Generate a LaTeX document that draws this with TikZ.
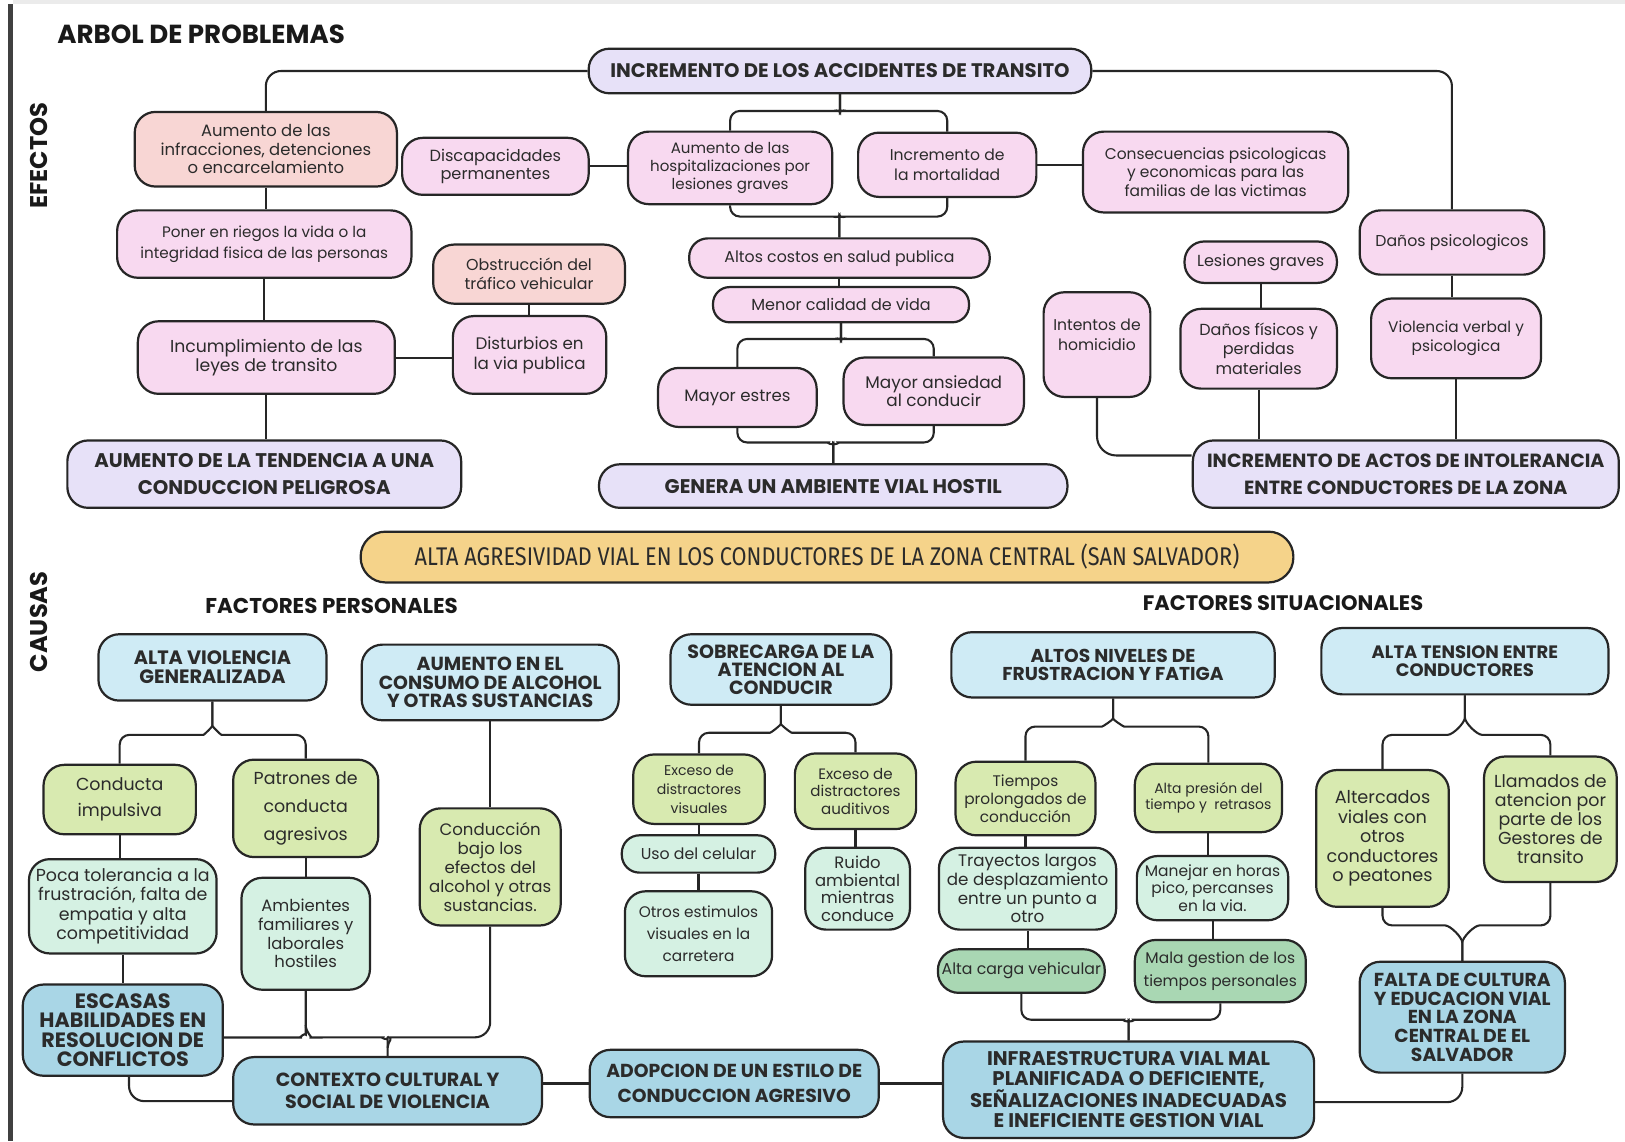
\documentclass[tikz,border=0pt]{standalone}
\usepackage{fontspec}
\setmainfont{Poppins}
\newfontfamily\bannerfont[FakeStretch=0.85]{Fira Sans}
\usetikzlibrary{calc,backgrounds}
\definecolor{lc}{HTML}{262626}
\definecolor{txt}{HTML}{2B2B2B}
\definecolor{lavC}{HTML}{E7E1F8}
\definecolor{pnkC}{HTML}{F8D9F0}
\definecolor{salC}{HTML}{F8D6D4}
\definecolor{banC}{HTML}{F5D38A}
\definecolor{lbC}{HTML}{CFEBF5}
\definecolor{dbC}{HTML}{A9D6E6}
\definecolor{ygC}{HTML}{D8EAB0}
\definecolor{mtC}{HTML}{D5F1E3}
\definecolor{dgC}{HTML}{A9D7B3}
\tikzset{
  bxs/.style={draw=lc, line width=1.6pt, rounded corners=15pt, inner sep=0pt, align=center, text=txt},
  rc/.style={rounded corners=#1*0.75pt},
  lav/.style={bxs, fill=lavC},
  pnk/.style={bxs, fill=pnkC},
  sal/.style={bxs, fill=salC},
  ban/.style={bxs, fill=banC},
  lb/.style={bxs, fill=lbC},
  db/.style={bxs, fill=dbC},
  yg/.style={bxs, fill=ygC},
  mt/.style={bxs, fill=mtC},
  dg/.style={bxs, fill=dgC},
  fs/.style 2 args={font=\fontsize{#1}{#2}\selectfont},
  fb/.style 2 args={font=\fontsize{#1}{#2}\selectfont\bfseries},
  conn/.style={draw=lc, line width=1.5pt, rounded corners=7pt},
  lbl/.style={text=black!90, inner sep=0pt}
}
% box from corners (x1,y1)-(x2,y2) in px units
\newcommand{\bx}[7]{\node[#6,minimum width={(#4-#2)*0.75pt},minimum height={(#5-#3)*0.75pt}] (#1) at ({(#2+#4)/2},{(#3+#5)/2}) {#7};}
% overbrace split: parent, child, stem, rx, ry, side (-1/1)
\newcommand{\obr}[6]{\draw[conn] (#1.south) -- ++(0,#3) to[out=-90,in={90+90*#6}] ++({#6*#4},#5) -| (#2.north);}
% underbrace join: child, parent, stem, rx, ry, side (-1/1)
\newcommand{\ubr}[6]{\draw[conn] (#1.south) |- ($(#2.north)+({#6*#4},{-(#3+#5)})$) to[out={90+90*#6},in=90] ($(#2.north)+(0,{-#3})$) -- (#2.north);}
\begin{document}
\begin{tikzpicture}[x=0.75pt,y=-0.75pt]
\useasboundingbox (0,0) rectangle (1568,1101);
% ---------------- labels
\node[lbl,fb={18.9}{20},anchor=west] (title) at (55,33) {ARBOL DE PROBLEMAS};
\node[lbl,fb={17.5}{20},rotate=90] (efectos) at (38,150) {EFECTOS};
\node[lbl,fb={17.5}{20},rotate=90] (causas) at (38,600) {CAUSAS};
\node[lbl,fb={15.5}{17}] (fper) at (320,585) {FACTORES PERSONALES};
\node[lbl,fb={15.2}{17}] (fsit) at (1238,582) {FACTORES SITUACIONALES};
% ---------------- effects
\bx{incAcc}{568}{47}{1053}{90}{lav,rc=20,fb={14.2}{15}}{INCREMENTO DE LOS ACCIDENTES DE TRANSITO}
\bx{aumInf}{130}{108}{383}{180}{sal,fs={11.9}{13.5}}{Aumento de las\\infracciones, detenciones\\o encarcelamiento}
\bx{disc}{388}{133}{568}{188}{pnk,fs={11.7}{13.5}}{Discapacidades\\permanentes}
\bx{hosp}{606}{127}{803}{197}{pnk,fs={10.9}{12.8}}{Aumento de las\\hospitalizaciones por\\lesiones graves}
\bx{mort}{828}{128}{1000}{190}{pnk,fs={11.3}{14}}{Incremento de\\la mortalidad}
\bx{cons}{1045}{127}{1301}{205}{pnk,fs={11.2}{13.5}}{Consecuencias psicologicas\\y economicas para las\\familias de las victimas}
\bx{poner}{113}{203}{397}{268}{pnk,fs={11}{15}}{Poner en riegos la vida o la\\integridad fisica de las personas}
\bx{obst}{418}{236}{603}{293}{sal,fs={11.5}{13.5}}{Obstrucción del\\tráfico vehicular}
\bx{costos}{665}{230}{955}{268}{pnk,rc=18,fs={11.4}{13}}{Altos costos en salud publica}
\bx{menor}{688}{277}{935}{311}{pnk,rc=16,fs={11.6}{13}}{Menor calidad de vida}
\bx{lesiones}{1143}{233}{1290}{273}{pnk,rc=19,fs={11.6}{13}}{Lesiones graves}
\bx{danosPsi}{1312}{203}{1490}{265}{pnk,fs={11.4}{13}}{Daños psicologicos}
\bx{intentos}{1007}{282}{1110}{383}{pnk,fs={11.3}{14.3}}{Intentos de\\homicidio\\[-4pt]\strut}
\bx{danosFis}{1139}{298}{1290}{375}{pnk,fs={11.6}{14}}{Daños físicos y\\perdidas\\materiales}
\bx{violencia}{1323}{288}{1487}{365}{pnk,fs={11.1}{14}}{Violencia verbal y\\psicologica}
\bx{incump}{133}{310}{381}{380}{pnk,fs={12.5}{14.3}}{Incumplimiento de las\\leyes de transito}
\bx{dist}{437}{305}{585}{380}{pnk,fs={12.1}{14.3}}{Disturbios en\\la via publica}
\bx{estres}{635}{355}{788}{412}{pnk,fs={12}{14}}{Mayor estres}
\bx{ansiedad}{814}{345}{988}{410}{pnk,fs={12.2}{13}}{Mayor ansiedad\\al conducir}
\bx{aumTend}{65}{425}{445}{490}{lav,fb={14.3}{19.5}}{AUMENTO DE LA TENDENCIA A UNA\\CONDUCCION PELIGROSA}
\bx{genera}{578}{448}{1030}{490}{lav,rc=20,fb={14.3}{15}}{GENERA UN AMBIENTE VIAL HOSTIL}
\bx{actos}{1151}{425}{1562}{490}{lav,fb={13.8}{19.5}}{INCREMENTO DE ACTOS DE INTOLERANCIA\\ENTRE CONDUCTORES DE LA ZONA}
% ---------------- banner
\bx{banner}{348}{513}{1248}{562}{ban,rc=24,font=\bannerfont\fontsize{18.5}{20}\selectfont}{ALTA AGRESIVIDAD VIAL EN LOS CONDUCTORES DE LA ZONA CENTRAL (SAN SALVADOR)}
% ---------------- causes
\bx{altaViol}{95}{612}{315}{676}{lb,fb={14}{13.5}}{ALTA VIOLENCIA\\GENERALIZADA}
\bx{consumo}{349}{622}{597}{695}{lb,fb={13.7}{13.5}}{AUMENTO EN EL\\CONSUMO DE ALCOHOL\\Y OTRAS SUSTANCIAS}
\bx{sobrecarga}{647}{612}{860}{680}{lb,fb={13.8}{13}}{SOBRECARGA DE LA\\ATENCION AL\\CONDUCIR}
\bx{frust}{918}{610}{1230}{673}{lb,fb={13.5}{13.5}}{ALTOS NIVELES DE\\FRUSTRACION Y FATIGA}
\bx{tension}{1275}{606}{1552}{670}{lb,fb={13}{13.5}}{ALTA TENSION ENTRE\\CONDUCTORES}
\bx{impulsiva}{42}{738}{189}{805}{yg,fs={12.6}{18.75}}{Conducta\\impulsiva}
\bx{patrones}{225}{733}{365}{827}{yg,fs={12.6}{20}}{Patrones de\\conducta\\agresivos}
\bx{conduccion}{405}{780}{541}{893}{yg,fs={12}{13.7}}{Conducción\\bajo los\\efectos del\\alcohol y otras\\sustancias.}
\bx{excVis}{611}{728}{738}{795}{yg,fs={10.2}{13.5}}{Exceso de\\distractores\\visuales}
\bx{excAud}{767}{727}{884}{800}{yg,fs={10.9}{12.8}}{Exceso de\\distractores\\auditivos}
\bx{tiempos}{922}{735}{1057}{806}{yg,fs={11.1}{13}}{Tiempos\\prolongados de\\conducción}
\bx{presion}{1095}{737}{1237}{803}{yg,fs={10.1}{12}}{Alta presión del\\tiempo y\ \ retrasos}
\bx{altercados}{1270}{743}{1398}{875}{yg,fs={12.8}{14.2}}{Altercados\\viales con\\otros\\conductores\\o peatones}
\bx{llamados}{1432}{730}{1560}{851}{yg,fs={12.6}{13.7}}{Llamados de\\atencion por\\parte de los\\Gestores de\\transito}
\bx{poca}{28}{829}{209}{920}{mt,fs={12.6}{14}}{Poca tolerancia a la\\frustración, falta de\\empatia y alta\\competitividad}
\bx{ambientes}{233}{847}{357}{955}{mt,fs={11.9}{13.5}}{Ambientes\\familiares y\\laborales\\hostiles}
\bx{celular}{600}{806}{748}{842}{mt,rc=17,fs={11.4}{13}}{Uso del celular}
\bx{otros}{603}{860}{745}{942}{mt,fs={11.1}{16}}{Otros estimulos\\visuales en la\\carretera}
\bx{ruido}{777}{818}{878}{897}{mt,fs={11.9}{12.8}}{Ruido\\ambiental\\mientras\\conduce}
\bx{trayectos}{906}{818}{1077}{897}{mt,fs={12.1}{13.5}}{Trayectos largos\\de desplazamiento\\entre un punto a\\otro}
\bx{manejar}{1097}{826}{1243}{888}{mt,fs={11.2}{13}}{Manejar en horas\\pico, percanses\\en la via.}
\bx{carga}{905}{916}{1066}{958}{dg,rc=20,fs={11.4}{13}}{Alta carga vehicular}
\bx{gestion}{1095}{907}{1260}{967}{dg,fs={11.2}{16.5}}{Mala gestion de los\\tiempos personales}
\bx{escasas}{22}{950}{215}{1038}{db,fb={15}{14}}{ESCASAS\\HABILIDADES EN\\RESOLUCION DE\\CONFLICTOS}
\bx{contexto}{225}{1020}{523}{1085}{db,fb={13.8}{15.5}}{CONTEXTO CULTURAL Y\\SOCIAL DE VIOLENCIA}
\bx{adopcion}{569}{1013}{848}{1078}{db,fb={13.6}{18}}{ADOPCION DE UN ESTILO DE\\CONDUCCION AGRESIVO}
\bx{infra}{910}{1005}{1268}{1098}{db,fb={14.3}{14.6}}{INFRAESTRUCTURA VIAL MAL\\PLANIFICADA O DEFICIENTE,\\SEÑALIZACIONES INADECUADAS\\E INEFICIENTE GESTION VIAL}
\bx{falta}{1312}{928}{1510}{1035}{db,fb={13.6}{13.5}}{FALTA DE CULTURA\\Y EDUCACION VIAL\\EN LA ZONA\\CENTRAL DE EL\\SALVADOR}
% ---------------- background and connectors
\begin{scope}[on background layer]
\fill[white] (0,0) rectangle (1568,1101);
\fill[black!8] (13,0) rectangle (1568,4);
\fill[black!75] (8,4) rectangle (13,1101);
% effects
\draw[conn,rounded corners=11pt] (incAcc.west) -| (aumInf.north);
\draw[conn,rounded corners=11pt] (incAcc.east) -| (danosPsi.north);
\obr{incAcc}{hosp}{8}{14}{8}{-1}
\obr{incAcc}{mort}{8}{14}{8}{1}
\ubr{hosp}{costos}{12}{14}{8}{-1}
\ubr{mort}{costos}{12}{14}{8}{1}
\draw[conn] (costos.south) -- (costos.south |- menor.north);
\obr{menor}{estres}{7}{14}{8}{-1}
\obr{menor}{ansiedad}{7}{14}{8}{1}
\ubr{estres}{genera}{10}{14}{10}{-1}
\ubr{ansiedad}{genera}{10}{14}{10}{1}
\draw[conn] (aumInf.south) -- (aumInf.south |- poner.north);
\draw[conn] (poner.south) -- (poner.south |- incump.north);
\draw[conn] (incump.south) -- (incump.south |- aumTend.north);
\draw[conn] (incump.east) -- (incump.east -| dist.west);
\draw[conn] (obst.south) -- (obst.south |- dist.north);
\draw[conn] (disc.east) -- (disc.east -| hosp.west);
\draw[conn] (mort.east) -- (mort.east -| cons.west);
\draw[conn] (danosPsi.south) -- (danosPsi.south |- violencia.north);
\draw[conn] (violencia.south) -- (violencia.south |- actos.north);
\draw[conn] (lesiones.south) -- (lesiones.south |- danosFis.north);
\draw[conn] (danosFis.south) -- (danosFis.south |- actos.north);
\draw[conn,rounded corners=14pt] (intentos.south) |- ($(actos.west)+(0,-18)$);
% causes
\obr{altaViol}{impulsiva}{14}{18}{18}{-1}
\obr{altaViol}{patrones}{14}{18}{18}{1}
\obr{sobrecarga}{excVis}{8}{20}{18}{-1}
\obr{sobrecarga}{excAud}{8}{20}{18}{1}
\obr{frust}{tiempos}{10}{20}{17}{-1}
\obr{frust}{presion}{10}{20}{17}{1}
\obr{tension}{altercados}{12}{26}{26}{-1}
\obr{tension}{llamados}{12}{26}{26}{1}
\ubr{altercados}{falta}{8}{26}{26}{-1}
\ubr{llamados}{falta}{8}{26}{26}{1}
\ubr{carga}{infra}{10}{14}{10}{-1}
\ubr{gestion}{infra}{10}{14}{10}{1}
\draw[conn] (impulsiva.south) -- (impulsiva.south |- poca.north);
\draw[conn] (poca.south) -- (poca.south |- escasas.north);
\draw[conn] (patrones.south) -- (patrones.south |- ambientes.north);
\draw[conn] (consumo.south) -- (consumo.south |- conduccion.north);
\draw[conn] (excVis.south) -- (excVis.south |- celular.north);
\draw[conn] (celular.south) -- (celular.south |- otros.north);
\draw[conn] (excAud.south) -- (excAud.south |- ruido.north);
\draw[conn] (tiempos.south) -- (tiempos.south |- trayectos.north);
\draw[conn] (trayectos.south) -- (trayectos.south |- carga.north);
\draw[conn] (presion.south) -- (presion.south |- manejar.north);
\draw[conn] (manejar.south) -- (manejar.south |- gestion.north);
\coordinate (tA) at ($(ambientes.south)+(0,33)$);
\coordinate (tC) at ($(contexto.north)+(0,-8)$);
\draw[conn] (ambientes.south) -- (tA) to[out=-90,in=0] ++(-14,12) coordinate (hA) -- (hA -| escasas.east);
\draw[conn] (tA) to[out=-90,in=180] ++(14,12) -- ($(tC)+(-14,-10)$) to[out=0,in=90] (tC) -- (contexto.north);
\draw[conn,rounded corners=11pt] (conduccion.south) |- ($(tC)+(14,-10)$) to[out=180,in=90] (tC);
\draw[conn,rounded corners=11pt] ($(escasas.south)+(6,0)$) |- ($(contexto.west)+(0,10)$);
\draw[conn] (contexto.east |- adopcion.west) -- (adopcion.west);
\draw[conn] (adopcion.east) -- (adopcion.east -| infra.west);
\draw[conn,rounded corners=11pt] ($(infra.east)+(0,12)$) -| (falta.south);
\end{scope}
\end{tikzpicture}
\end{document}
